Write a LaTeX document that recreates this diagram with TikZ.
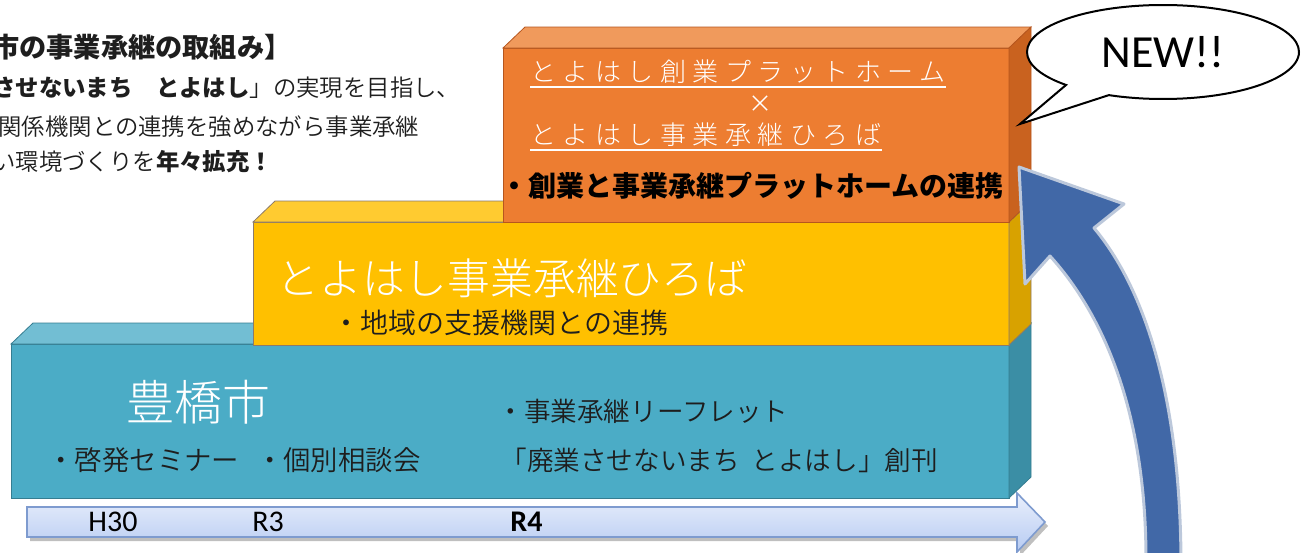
\documentclass[tikz,border=0pt]{standalone}
\usepackage{fontspec}
\usetikzlibrary{positioning,shapes.callouts}
\newfontfamily\jp{Noto Sans CJK JP}
\IfFontExistsTF{Noto Sans CJK JP Light}{\newfontfamily\jpthin{Noto Sans CJK JP Light}}{\newfontfamily\jpthin{Noto Sans CJK JP}}
\IfFontExistsTF{Noto Sans CJK JP DemiLight}{\newfontfamily\jplite{Noto Sans CJK JP DemiLight}}{\newfontfamily\jplite{Noto Sans CJK JP}}
\newfontfamily\lat{Carlito}
\newcommand{\jb}{\jp\bfseries}

\definecolor{aquafront}{HTML}{4BACC6}
\definecolor{aquatop}{HTML}{72BED3}
\definecolor{aquaside}{HTML}{3B8EA5}
\definecolor{aquaedge}{HTML}{357D91}
\definecolor{goldfront}{HTML}{FFC000}
\definecolor{goldtop}{HTML}{FFCB30}
\definecolor{goldside}{HTML}{D8A200}
\definecolor{goldedge}{HTML}{8C7A6A}
\definecolor{tangfront}{HTML}{ED7D31}
\definecolor{tangtop}{HTML}{F09A5C}
\definecolor{tangside}{HTML}{C9621F}
\definecolor{tangedge}{HTML}{B6561E}
\definecolor{swoopblue}{HTML}{4168A7}
\definecolor{swoopedge}{HTML}{BCC8DB}
\definecolor{tlinetop}{HTML}{E9EFFC}
\definecolor{tlinebot}{HTML}{B7CBF2}
\definecolor{tlineedge}{HTML}{7E9BCF}
\definecolor{ink}{HTML}{1E1E1E}

% slab: x1 y1 x2 y2 colour
\newcommand{\slab}[5]{%
\filldraw[fill=#5front, draw=#5edge] (#1,#2) rectangle (#3,#4);
\filldraw[fill=#5top, draw=#5edge] (#1,#2) -- ({#1+22},{#2-21}) -- ({#3+22},{#2-21}) -- (#3,#2) -- cycle;
\filldraw[fill=#5side, draw=#5edge] (#3,#2) -- ({#3+22},{#2-21}) -- ({#3+22},{#4-21}) -- (#3,#4) -- cycle;
}

\begin{document}
\begin{tikzpicture}[x=0.5pt, y=-0.5pt,
  head/.style={inner sep=0pt, anchor=west, text=ink, font=\jplite\fontsize{11.7}{14}\selectfont},
  lbl/.style={inner sep=0pt, anchor=west, text=ink, font=\jplite\fontsize{13.7}{16}\selectfont},
  big/.style={inner sep=0pt, anchor=west, text=white, font=\jpthin\fontsize{#1}{#1}\selectfont},
  plat/.style={inner sep=0pt, anchor=west, text=white, font=\jpthin\fontsize{13}{15}\selectfont\addfontfeature{LetterSpace=25}},
  uline/.style={draw=white, line width=0.8pt},
  year/.style={inner sep=0pt, anchor=west, text=black, font=\lat\fontsize{15}{17}\selectfont},
  tline/.style={draw=tlineedge, line width=0.8pt, top color=tlinetop, bottom color=tlinebot},
  swoop/.style={fill=swoopblue, draw=swoopedge, line width=1.5pt, line join=round},
  bubble/.style={ellipse callout, draw=black, fill=white, line width=1pt, minimum width=136pt,
    minimum height=47pt, inner sep=0pt, callout pointer arc=22, font=\lat\fontsize{23}{27}\selectfont}]
\useasboundingbox (0,0) rectangle (1301,552);
\clip (0,0) rectangle (1301,552);

% heading at top left
\node[head, font=\jb\fontsize{13.6}{16}\selectfont] (h1) at (-8,47) {市の事業承継の取組み】};
\node[head] (h2) at (-8,88) {{\jb させないまち　とよはし}」の実現を目指し、};
\node[head] (h3) at (-2,127) {関係機関との連携を強めながら事業承継};
\node[head] (h4) at (-8,162) {い環境づくりを{\jb 年々拡充！}};

% time line
\fill[black!25, xshift=1.5pt, yshift=-2pt] (27,507) -- (1017,507) -- (1017,493) -- (1045,522) -- (1017,552) -- (1017,537) -- (27,537) -- cycle;
\draw[tline] (27,507) -- (1017,507) -- (1017,493) -- (1045,522) -- (1017,552) -- (1017,537) -- (27,537) -- cycle;
\node[year] (h30) at (88,522) {H30};
\node[year] (r3) at (252,522) {R3};
\node[year, font=\lat\bfseries\fontsize{15}{17}\selectfont] (r4) at (510,522) {R4};

% the three steps
\slab{11}{344}{1009}{498}{aqua}
\slab{253}{222}{1009}{345}{gold}
\slab{503}{48}{1009}{222}{tang}

% Toyohashi city
\node[big=24] (city) at (126,402) {豊橋市};
\node[lbl] (semi) at (47,460) {・啓発セミナー};
\node[lbl] (soudan) [right=8pt of semi] {・個別相談会};
\node[lbl, font=\jplite\fontsize{13.3}{16}\selectfont] (leaf) at (497,411) {・事業承継リーフレット};
\node[lbl, font=\jplite\fontsize{13.3}{16}\selectfont] (souk) at (500,460) {「廃業させないまち\hspace{0.45em}とよはし」創刊};

% hiroba
\node[big=21.4] (hiroba) at (276,278) {とよはし事業承継ひろば};
\node[lbl, font=\jplite\fontsize{14}{16}\selectfont] (chiiki) at (332,323) {・地域の支援機関との連携};

% platform x hiroba
\node[plat] (pf) at (530,72) {とよはし創業プラットホーム};
\draw[uline] ([yshift=-1.5pt]pf.south west) -- ([yshift=-1.5pt]pf.south east);
\node[inner sep=0pt, text=white, font=\jplite\fontsize{12}{14}\selectfont] (kake) at (760,104) {×};
\node[plat] (hb) at (530,135) {とよはし事業承継ひろば};
\draw[uline] ([yshift=-1.5pt]hb.south west) -- ([yshift=-1.5pt]hb.south east);
\node[lbl, font=\jb\fontsize{14}{16}\selectfont, text=black] (renkei) at (500,186) {・創業と事業承継プラットホームの連携};

% big curved arrow
\filldraw[swoop] (1019,167) -- (1124,204) -- (1094,228) .. controls (1146,290) and (1180,400) .. (1181,560)
  -- (1146,560) .. controls (1146,420) and (1108,320) .. (1050,256) -- (1025,284) -- cycle;

% speech bubble
\node[bubble, callout absolute pointer={(1020,124)}] (new) at (1163,52) {NEW!!};
\end{tikzpicture}
\end{document}
